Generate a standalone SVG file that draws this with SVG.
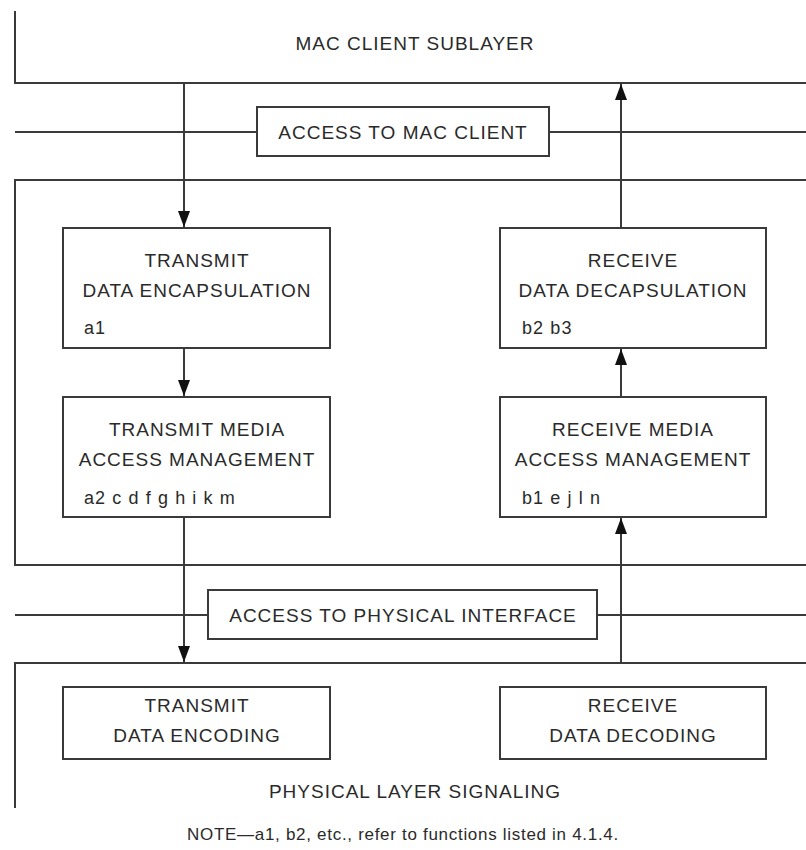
<svg xmlns="http://www.w3.org/2000/svg" width="806" height="850" viewBox="0 0 806 850">
  <style>
    .ln { stroke: #3a3a3a; stroke-width: 2; fill: none; }
    .bx { stroke: #3a3a3a; stroke-width: 2; fill: #ffffff; }
    .t { font-family: "Liberation Sans", Arial, sans-serif; font-size: 19px; fill: #2a2a2a; text-anchor: middle; letter-spacing: 1px; }
    .s { font-family: "Liberation Sans", Arial, sans-serif; font-size: 18px; fill: #2a2a2a; letter-spacing: 1.1px; }
    .n { font-family: "Liberation Sans", Arial, sans-serif; font-size: 17px; fill: #2a2a2a; text-anchor: middle; letter-spacing: 0.7px; }
  </style>
  <defs>
    <marker id="arrow" viewBox="0 0 16 12" refX="16" refY="6" markerWidth="16" markerHeight="12" markerUnits="userSpaceOnUse" orient="auto">
      <path d="M0,0 L16,6 L0,12 z" fill="#111111"/>
    </marker>
  </defs>
  <rect width="806" height="850" fill="#ffffff"/>

  <!-- layer boundaries -->
  <g id="mac-client-sublayer">
    <path class="ln" d="M15,11 V83 H806"/>
    <text class="t" x="415" y="50">MAC CLIENT SUBLAYER</text>
  </g>

  <g id="mac-sublayer">
    <path class="ln" d="M806,180 H15 V565 H806"/>
  </g>

  <g id="physical-layer-signaling">
    <path class="ln" d="M806,663 H15 V808"/>
    <text class="t" x="415" y="798">PHYSICAL LAYER SIGNALING</text>
  </g>

  <!-- service interfaces -->
  <g id="access-mac-client">
    <path class="ln" d="M15,132 H257 M549,132 H806"/>
    <rect class="bx" x="257" y="107" width="292" height="49"/>
    <text class="t" x="403" y="139">ACCESS TO MAC CLIENT</text>
  </g>

  <g id="access-physical-interface">
    <path class="ln" d="M15,615 H208 M597,615 H806"/>
    <rect class="bx" x="208" y="590" width="389" height="49"/>
    <text class="t" x="403" y="622">ACCESS TO PHYSICAL INTERFACE</text>
  </g>

  <!-- function blocks -->
  <g id="transmit-data-encapsulation">
    <rect class="bx" x="63" y="228" width="267" height="120"/>
    <text class="t" x="197" y="267">TRANSMIT</text>
    <text class="t" x="197" y="297">DATA ENCAPSULATION</text>
    <text class="s" x="84" y="334">a1</text>
  </g>

  <g id="transmit-media-access-management">
    <rect class="bx" x="63" y="397" width="267" height="120"/>
    <text class="t" x="197" y="436">TRANSMIT MEDIA</text>
    <text class="t" x="197" y="466">ACCESS MANAGEMENT</text>
    <text class="s" x="84" y="504">a2 c d f g h i k m</text>
  </g>

  <g id="receive-data-decapsulation">
    <rect class="bx" x="500" y="228" width="266" height="120"/>
    <text class="t" x="633" y="267">RECEIVE</text>
    <text class="t" x="633" y="297">DATA DECAPSULATION</text>
    <text class="s" x="522" y="334">b2 b3</text>
  </g>

  <g id="receive-media-access-management">
    <rect class="bx" x="500" y="397" width="266" height="120"/>
    <text class="t" x="633" y="436">RECEIVE MEDIA</text>
    <text class="t" x="633" y="466">ACCESS MANAGEMENT</text>
    <text class="s" x="522" y="504">b1 e j l n</text>
  </g>

  <g id="transmit-data-encoding">
    <rect class="bx" x="63" y="687" width="267" height="72"/>
    <text class="t" x="197" y="712">TRANSMIT</text>
    <text class="t" x="197" y="742">DATA ENCODING</text>
  </g>

  <g id="receive-data-decoding">
    <rect class="bx" x="500" y="687" width="266" height="72"/>
    <text class="t" x="633" y="712">RECEIVE</text>
    <text class="t" x="633" y="742">DATA DECODING</text>
  </g>

  <!-- data flow connectors -->
  <g id="connectors">
    <line class="ln" x1="184" y1="83" x2="184" y2="227" marker-end="url(#arrow)"/>
    <line class="ln" x1="184" y1="348" x2="184" y2="396" marker-end="url(#arrow)"/>
    <line class="ln" x1="184" y1="517" x2="184" y2="662" marker-end="url(#arrow)"/>
    <line class="ln" x1="621" y1="663" x2="621" y2="518" marker-end="url(#arrow)"/>
    <line class="ln" x1="621" y1="397" x2="621" y2="349" marker-end="url(#arrow)"/>
    <line class="ln" x1="621" y1="228" x2="621" y2="84" marker-end="url(#arrow)"/>
  </g>

  <text class="n" x="403" y="840">NOTE—a1, b2, etc., refer to functions listed in 4.1.4.</text>
</svg>
